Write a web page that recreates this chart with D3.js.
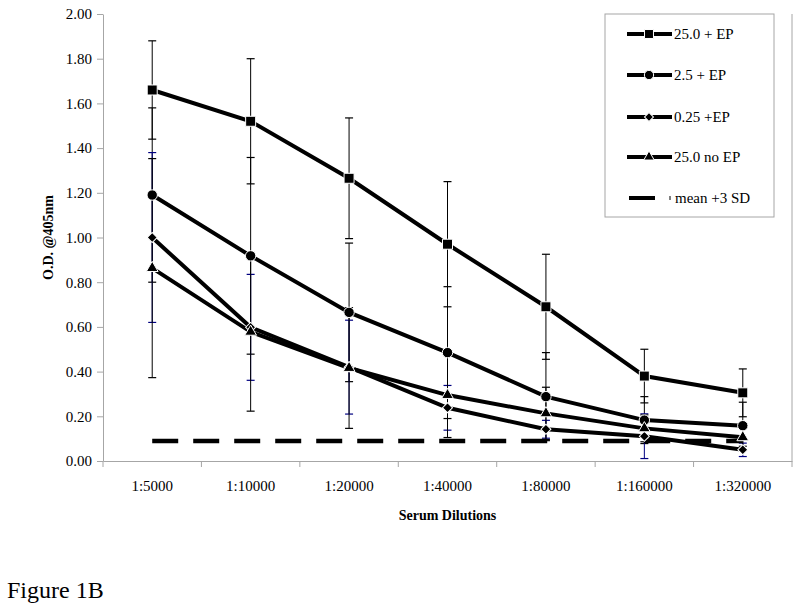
<!DOCTYPE html>
<html>
<head>
<meta charset="utf-8">
<script src="https://cdn.jsdelivr.net/npm/d3@7"></script>
<style>
body { margin: 0; background: #fff; }
text { font-family: "Liberation Serif", "Times New Roman", serif; fill: #000; }
</style>
</head>
<body>
<div id="chart"></div>
<script>
var categories = ["1:5000", "1:10000", "1:20000", "1:40000", "1:80000", "1:160000", "1:320000"];
var yTicks = [0, 0.2, 0.4, 0.6, 0.8, 1.0, 1.2, 1.4, 1.6, 1.8, 2.0];

var ep25 = [1.66, 1.52, 1.265, 0.97, 0.69, 0.38, 0.305];
var ep25Err = [0.22, 0.28, 0.27, 0.28, 0.235, 0.12, 0.107];
var ep2_5 = [1.19, 0.918, 0.665, 0.485, 0.288, 0.183, 0.158];
var ep2_5Err = [0.39, 0.44, 0.31, 0.295, 0.197, 0.105, 0.105];
var ep0_25 = [1.0, 0.598, 0.42, 0.238, 0.142, 0.111, 0.05];
var ep0_25Err = [0.38, 0.237, 0.21, 0.10, 0.04, 0.10, 0.03];
var noEp25 = [0.863, 0.578, 0.416, 0.295, 0.213, 0.146, 0.106];
var noEp25Err = [0.49, 0.355, 0.27, 0.19, 0.117, 0.06, 0.04];
var cutoff = 0.09;

var series = [
    {name: "25.0 + EP", values: ep25, err: ep25Err, symbol: d3.symbolSquare, size: 100, rot: 0, errColor: "#000"},
    {name: "2.5 + EP", values: ep2_5, err: ep2_5Err, symbol: d3.symbolCircle, size: 85, rot: 0, errColor: "#000"},
    {name: "0.25 +EP", values: ep0_25, err: ep0_25Err, symbol: d3.symbolSquare, size: 50, rot: 45, errColor: "#000080"},
    {name: "25.0 no EP", values: noEp25, err: noEp25Err, symbol: d3.symbolTriangle, size: 60, rot: 0, errColor: "#000"}
];

var svg = d3.select("#chart").append("svg")
    .attr("width", 800)
    .attr("height", 607);

var plotLeft = 103, plotRight = 792, plotTop = 14, plotBottom = 461;
var x = d3.scaleBand().domain(categories).range([plotLeft, plotRight]);
var y = d3.scaleLinear().domain([0, 2]).range([plotBottom, plotTop]);

// axes
var yAxis = svg.append("g")
    .attr("transform", "translate(" + plotLeft + ",0)")
    .call(d3.axisLeft(y).tickValues(yTicks).tickFormat(d3.format(".2f")).tickSizeInner(6).tickSizeOuter(0).tickPadding(5));
yAxis.selectAll("text").style("font-size", "15px").style("font-family", "Liberation Serif");

var xAxis = svg.append("g")
    .attr("transform", "translate(0," + plotBottom + ")")
    .call(d3.axisBottom(x).tickSizeInner(0).tickSizeOuter(0).tickPadding(19));
xAxis.selectAll("text").style("font-size", "15px").style("font-family", "Liberation Serif");

// x ticks between categories
xAxis.selectAll(".btick")
    .data(d3.range(categories.length + 1))
    .enter().append("line")
    .attr("class", "btick")
    .attr("x1", function (d) { return plotLeft + d * x.step(); })
    .attr("x2", function (d) { return plotLeft + d * x.step(); })
    .attr("y1", 0).attr("y2", 6)
    .attr("stroke", "#a6a6a6");

svg.selectAll(".domain, .tick line").attr("stroke", "#a6a6a6");

// right border of plot area
svg.append("line")
    .attr("x1", plotRight).attr("x2", plotRight)
    .attr("y1", plotTop).attr("y2", plotBottom)
    .attr("stroke", "#a6a6a6");

// axis titles
svg.append("text")
    .attr("transform", "translate(53," + (plotTop + plotBottom) / 2 + ") rotate(-90)")
    .attr("text-anchor", "middle")
    .style("font-size", "14px").style("font-weight", "bold")
    .text("O.D. @405nm");

svg.append("text")
    .attr("x", (plotLeft + plotRight) / 2)
    .attr("y", 520)
    .attr("text-anchor", "middle")
    .style("font-size", "14px").style("font-weight", "bold")
    .text("Serum Dilutions");

svg.append("text")
    .attr("x", 7)
    .attr("y", 598)
    .style("font-size", "24px")
    .text("Figure 1B");

var cx = function (d, i) { return x(categories[i]) + x.bandwidth() / 2; };

// error bars
series.forEach(function (s) {
    var g = svg.append("g");
    var eb = g.selectAll("g").data(s.values).enter().append("g");
    eb.append("line")
        .attr("x1", cx).attr("x2", cx)
        .attr("y1", function (d, i) { return y(d + s.err[i]); })
        .attr("y2", function (d, i) { return y(Math.max(0, d - s.err[i])); })
        .attr("stroke", s.errColor).attr("stroke-width", 1);
    [1, -1].forEach(function (sign) {
        eb.append("line")
            .attr("x1", function (d, i) { return cx(d, i) - 4; })
            .attr("x2", function (d, i) { return cx(d, i) + 4; })
            .attr("y1", function (d, i) { return y(Math.max(0, d + sign * s.err[i])); })
            .attr("y2", function (d, i) { return y(Math.max(0, d + sign * s.err[i])); })
            .attr("stroke", s.errColor).attr("stroke-width", 1.2);
    });
});

// cutoff line
svg.append("line")
    .attr("x1", cx(0, 0)).attr("x2", cx(0, categories.length - 1))
    .attr("y1", y(cutoff)).attr("y2", y(cutoff))
    .attr("stroke", "#000").attr("stroke-width", 4.5)
    .attr("stroke-dasharray", "26,15");

// lines and markers
var line = d3.line().x(cx).y(function (d) { return y(d); });
series.forEach(function (s) {
    svg.append("path")
        .datum(s.values)
        .attr("d", line)
        .attr("fill", "none")
        .attr("stroke", "#000")
        .attr("stroke-width", 4);
});
series.forEach(function (s) {
    svg.append("g").selectAll("path")
        .data(s.values)
        .enter().append("path")
        .attr("d", d3.symbol().type(s.symbol).size(s.size))
        .attr("transform", function (d, i) { return "translate(" + cx(d, i) + "," + y(d) + ") rotate(" + s.rot + ")"; })
        .attr("fill", "#000")
        .attr("stroke", "#fff")
        .attr("stroke-width", 1);
});

// legend
var legend = svg.append("g");
legend.append("rect")
    .attr("x", 605).attr("y", 14)
    .attr("width", 169).attr("height", 203)
    .attr("fill", "#fff")
    .attr("stroke", "#a6a6a6");

var rowY = [34, 75, 117, 157, 198];
var items = legend.selectAll(".item")
    .data(series)
    .enter().append("g")
    .attr("class", "item")
    .attr("transform", function (d, i) { return "translate(0," + rowY[i] + ")"; });
items.append("line")
    .attr("x1", 627).attr("x2", 672)
    .attr("stroke", "#000").attr("stroke-width", 4);
items.append("path")
    .attr("d", function (d) { return d3.symbol().type(d.symbol).size(d.size * 0.8)(); })
    .attr("transform", function (d) { return "translate(649,0) rotate(" + d.rot + ")"; })
    .attr("fill", "#000").attr("stroke", "#fff").attr("stroke-width", 1);
items.append("text")
    .attr("x", 674).attr("y", 5)
    .style("font-size", "15px")
    .text(function (d) { return d.name; });

var last = legend.append("g").attr("transform", "translate(0," + rowY[4] + ")");
last.append("line")
    .attr("x1", 629).attr("x2", 655)
    .attr("stroke", "#000").attr("stroke-width", 4);
last.append("line")
    .attr("x1", 670).attr("x2", 670).attr("y1", -2).attr("y2", 2)
    .attr("stroke", "#000").attr("stroke-width", 1);
last.append("text")
    .attr("x", 675).attr("y", 5)
    .style("font-size", "15px")
    .text("mean +3 SD");
</script>
</body>
</html>
